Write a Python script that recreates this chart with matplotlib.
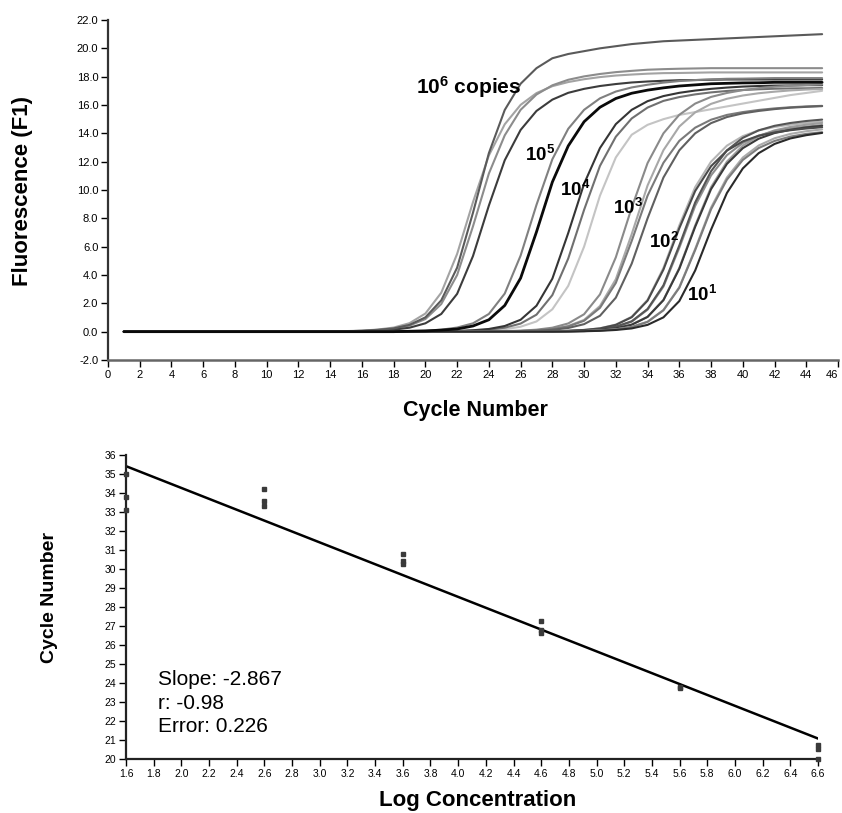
import matplotlib
matplotlib.use("Agg")
import matplotlib.pyplot as plt
import numpy as np

plt.rcParams["font.family"] = ["Liberation Sans", "DejaVu Sans"]
plt.rcParams["mathtext.fontset"] = "custom"
plt.rcParams["mathtext.rm"] = "Liberation Sans:bold"
plt.rcParams["mathtext.it"] = "Liberation Sans:bold"
plt.rcParams["mathtext.bf"] = "Liberation Sans:bold"
plt.rcParams["mathtext.default"] = "rm"

W, H = 842, 813

# --- amplification curves -------------------------------------------------
# fluorescence, from the cycle where it leaves baseline up to cycle 45
cycles = np.arange(1, 46)

c6_1 = [0.02, 0.04, 0.07, 0.15, 0.29, 0.60, 1.28, 2.75, 5.49, 9.15, 12.44, 14.64,
        16.01, 16.84, 17.33, 17.62, 17.82, 17.97, 18.08, 18.15, 18.21, 18.25, 18.26,
        18.28, 18.3, 18.3, 18.3, 18.3, 18.3, 18.3, 18.3, 18.3]
c6_2 = [0.03, 0.06, 0.11, 0.20, 0.43, 0.89, 1.95, 4.00, 7.44, 11.16, 13.86, 15.66,
        16.74, 17.39, 17.78, 18.02, 18.19, 18.32, 18.41, 18.49, 18.53, 18.56, 18.58,
        18.6, 18.6, 18.6, 18.6, 18.6, 18.6, 18.6, 18.6]
c6_top = [0.03, 0.06, 0.13, 0.23, 0.48, 1.01, 2.21, 4.52, 8.40, 12.60, 15.65, 17.50,
          18.60, 19.30, 19.60, 19.80, 20.00, 20.15, 20.30, 20.40, 20.50, 20.55, 20.60,
          20.65, 20.70, 20.75, 20.80, 20.85, 20.90, 20.95, 21.00]
c6_4 = [0.02, 0.04, 0.07, 0.14, 0.28, 0.59, 1.25, 2.67, 5.34, 8.90, 12.10, 14.24,
        15.58, 16.38, 16.86, 17.14, 17.34, 17.48, 17.59, 17.66, 17.71, 17.75, 17.76,
        17.78, 17.8, 17.8, 17.8, 17.8, 17.8, 17.8, 17.8]
c5_gray = [0.02, 0.04, 0.07, 0.14, 0.29, 0.59, 1.25, 2.69, 5.37, 8.95, 12.17, 14.32,
           15.66, 16.47, 16.95, 17.24, 17.43, 17.58, 17.69, 17.76, 17.81, 17.85, 17.86,
           17.88, 17.9, 17.9, 17.9, 17.9]
c5_black = [0.03, 0.05, 0.11, 0.19, 0.40, 0.84, 1.85, 3.78, 7.04, 10.56, 13.11, 14.82,
            15.84, 16.46, 16.83, 17.05, 17.21, 17.34, 17.42, 17.50, 17.53, 17.56, 17.57,
            17.6, 17.6, 17.6, 17.6]
c4_dark = [0.03, 0.05, 0.10, 0.19, 0.40, 0.84, 1.83, 3.74, 6.96, 10.44, 12.96, 14.65,
           15.66, 16.27, 16.63, 16.86, 17.02, 17.14, 17.23, 17.30, 17.34, 17.37, 17.38,
           17.40, 17.40]
c4_mid = [0.02, 0.03, 0.07, 0.14, 0.28, 0.57, 1.20, 2.58, 5.16, 8.60, 11.70, 13.76,
          15.05, 15.82, 16.29, 16.56, 16.75, 16.89, 16.99, 17.06, 17.11, 17.15, 17.17,
          17.18, 17.20]
c4_light = [0.02, 0.05, 0.09, 0.17, 0.35, 0.72, 1.58, 3.23, 6.00, 9.60, 12.30, 13.90,
            14.60, 15.00, 15.30, 15.50, 15.70, 15.90, 16.10, 16.30, 16.50, 16.70, 16.85,
            17.00]
c3_a = [0.02, 0.04, 0.07, 0.14, 0.28, 0.58, 1.23, 2.63, 5.25, 8.75, 11.90, 14.00,
        15.31, 16.10, 16.57, 16.85, 17.05, 17.19, 17.29, 17.36, 17.41, 17.45]
c3_b = [0.02, 0.05, 0.10, 0.18, 0.37, 0.77, 1.68, 3.44, 6.40, 9.60, 11.92, 13.47,
        14.40, 14.96, 15.30, 15.50, 15.65, 15.76, 15.84, 15.90, 15.94]
c3_c = [0.03, 0.05, 0.10, 0.19, 0.40, 0.83, 1.81, 3.70, 6.88, 10.32, 12.81, 14.48,
        15.48, 16.08, 16.44, 16.67, 16.83, 16.94, 17.03, 17.09, 17.13]
c3_d = [0.02, 0.03, 0.06, 0.13, 0.26, 0.53, 1.12, 2.40, 4.80, 8.00, 10.88, 12.80,
        14.00, 14.72, 15.15, 15.41, 15.58, 15.71, 15.81, 15.87, 15.92]
c2_a = [0.02, 0.03, 0.06, 0.12, 0.24, 0.50, 1.05, 2.25, 4.50, 7.50, 10.20, 12.00,
        13.13, 13.80, 14.21, 14.45, 14.61, 14.73, 14.82]
c2_b = [0.02, 0.04, 0.09, 0.16, 0.34, 0.71, 1.55, 3.18, 5.92, 8.88, 11.03, 12.46,
        13.32, 13.84, 14.15, 14.34, 14.47, 14.58]
c2_c = [0.02, 0.05, 0.09, 0.17, 0.35, 0.73, 1.60, 3.27, 6.08, 9.12, 11.32, 12.80,
        13.68, 14.21, 14.53, 14.73, 14.87, 14.97]
c2_d = [0.01, 0.03, 0.06, 0.12, 0.24, 0.49, 1.04, 2.22, 4.44, 7.40, 10.06, 11.84,
        12.95, 13.62, 14.02, 14.25, 14.42, 14.53]
c2_e = [0.02, 0.03, 0.06, 0.12, 0.24, 0.50, 1.05, 2.25, 4.50, 7.50, 10.20, 12.00,
        13.13, 13.80, 14.21, 14.45, 14.61, 14.73]
c2_f = [0.01, 0.03, 0.06, 0.12, 0.23, 0.48, 1.02, 2.19, 4.38, 7.30, 9.93, 11.68,
        12.78, 13.43, 13.83, 14.06, 14.22, 14.34, 14.43]
c1_a = [0.02, 0.04, 0.09, 0.16, 0.34, 0.70, 1.53, 3.14, 5.84, 8.76, 10.88, 12.29,
        13.14, 13.65, 13.96, 14.15, 14.28]
c1_b = [0.02, 0.04, 0.09, 0.16, 0.33, 0.69, 1.51, 3.10, 5.76, 8.64, 10.73, 12.12,
        12.96, 13.46, 13.77, 13.96, 14.08]
c1_c = [0.01, 0.03, 0.06, 0.12, 0.23, 0.48, 1.01, 2.16, 4.32, 7.20, 9.79, 11.52,
        12.60, 13.25, 13.64, 13.87, 14.03]

# copy-number labels: text, cycle, fluorescence
dil_labels = ["$10^{5}$", "$10^{4}$", "$10^{3}$", "$10^{2}$", "$10^{1}$"]
dil_label_x = [26.3, 28.5, 31.8, 34.1, 36.5]
dil_label_y = [12.5, 10.0, 8.7, 6.3, 2.6]

# --- standard curve -------------------------------------------------------
log_conc = [1.6, 1.6, 1.6, 2.6, 2.6, 2.6, 3.6, 3.6, 3.6, 4.6, 4.6, 4.6,
            5.6, 5.6, 6.6, 6.6, 6.6]
ct_values = [35.0, 33.8, 33.1, 34.2, 33.6, 33.3, 30.8, 30.4, 30.25, 27.25, 26.8,
             26.65, 23.8, 23.75, 20.75, 20.55, 20.0]
slope = -2.867
intercept = 40.0
fit_stats = ["Slope: -2.867", "r: -0.98", "Error: 0.226"]

# --- drawing --------------------------------------------------------------
curve_styles = [
    (c6_1, "#a3a3a3", 1.5), (c6_2, "#8c8c8c", 1.5), (c6_4, "#3c3c3c", 1.5),
    (c6_top, "#5a5a5a", 1.5), (c5_gray, "#808080", 1.5),
    (c4_light, "#c4c4c4", 1.5), (c4_mid, "#707070", 1.5), (c4_dark, "#353535", 1.5),
    (c3_c, "#a8a8a8", 1.5), (c3_a, "#8a8a8a", 1.5), (c3_b, "#7a7a7a", 1.5),
    (c3_d, "#606060", 1.5),
    (c2_a, "#b5b5b5", 1.5), (c2_e, "#9c9c9c", 1.5), (c2_b, "#8e8e8e", 1.5),
    (c2_c, "#555555", 1.5), (c2_d, "#3a3a3a", 1.5), (c2_f, "#4a4a4a", 1.5),
    (c1_a, "#ababab", 1.5), (c1_b, "#7c7c7c", 1.5), (c1_c, "#2a2a2a", 1.5),
    (c5_black, "#0a0a0a", 2.0),
]

fig = plt.figure(figsize=(W / 100, H / 100), dpi=100)


def fx(x):
    return x / W


def fy(y):
    return 1 - y / H


ax1 = fig.add_axes([fx(108), fy(360), (838 - 108) / W, (360 - 20) / H])
for vals, color, lw in curve_styles:
    vals = np.asarray(vals)
    full = np.concatenate([np.zeros(len(cycles) - len(vals)), vals])
    ax1.plot(cycles, full, color=color, lw=lw, solid_capstyle="round")

ax1.text(19.4, 17.25, "$10^{6}$ copies", fontsize=15, fontweight="bold",
         ha="left", va="center")
for lab, x, y in zip(dil_labels, dil_label_x, dil_label_y):
    ax1.text(x, y, lab, fontsize=13.5, ha="left", va="center")

ax1.set_xlim(0, 46)
ax1.set_ylim(-2, 22)
ax1.set_xticks(np.arange(0, 47, 2))
yt = np.arange(-2, 23, 2)
ax1.set_yticks(yt)
ax1.set_yticklabels([f"{v:.1f}" for v in yt])
for s in ("top", "right"):
    ax1.spines[s].set_visible(False)
ax1.spines["left"].set_linewidth(1.6)
ax1.spines["left"].set_color("#333333")
ax1.spines["bottom"].set_linewidth(1.8)
ax1.spines["bottom"].set_color("#666666")
ax1.tick_params(labelsize=8, length=5, width=1, direction="out", pad=2)
# last label sits at the right edge of the figure; keep it inside
ax1.get_xticklabels()[-1].set_horizontalalignment("right")

fig.text(fx(23), fy(191), "Fluorescence (F1)", rotation=90, fontsize=16,
         fontweight="bold", ha="center", va="center")
fig.text(fx(475), fy(416), "Cycle Number", fontsize=15.5, fontweight="bold",
         ha="center", va="baseline")

ax2 = fig.add_axes([fx(126), fy(759), (818 - 126) / W, (759 - 455) / H])
xs = np.array([1.6, 6.6])
ax2.plot(xs, intercept + slope * xs, color="black", lw=1.8)
ax2.plot(log_conc, ct_values, "s", ms=3.5, color="#3a3a3a", clip_on=False, zorder=3)
ax2.set_xlim(1.6, 6.6)
ax2.set_ylim(20, 36)
xt = np.round(np.arange(1.6, 6.61, 0.2), 1)
ax2.set_xticks(xt)
ax2.set_xticklabels([f"{v:.1f}" for v in xt])
ax2.set_yticks(np.arange(20, 37, 1))
for s in ("top", "right"):
    ax2.spines[s].set_visible(False)
for s in ("left", "bottom"):
    ax2.spines[s].set_linewidth(1.6)
    ax2.spines[s].set_color("#222222")
ax2.tick_params(labelsize=7.5, length=5, width=1, direction="out", pad=2)

for i, line in enumerate(fit_stats):
    fig.text(fx(158), fy(685 + 23.5 * i), line, fontsize=15, ha="left", va="baseline")

fig.text(fx(49), fy(597), "Cycle Number", rotation=90, fontsize=14,
         fontweight="bold", ha="center", va="center")
fig.text(fx(478), fy(806), "Log Concentration", fontsize=16, fontweight="bold",
         ha="center", va="baseline")

fig.savefig("out.png", dpi=100)
